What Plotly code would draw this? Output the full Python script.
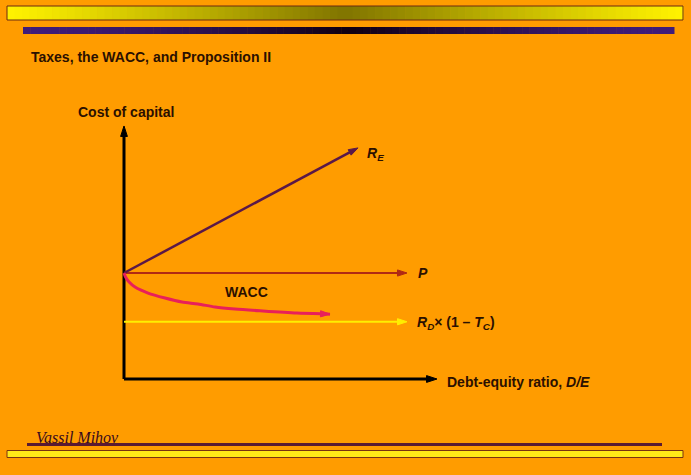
import plotly.graph_objects as go

# ---- data (D/E on x, cost of capital in % on y) ----
de_re = [0.0, 8.27]
re_vals = [10.0, 21.8]

de_p = [0.0, 10.0]
p_vals = [10.0, 10.0]

de_wacc = [0.0, 0.06, 0.18, 0.39, 0.85, 1.45, 2.05, 2.61, 3.22, 3.92, 4.91, 6.11, 7.17, 7.28]
wacc_vals = [10.0, 9.6, 9.15, 8.68, 8.11, 7.64, 7.26, 7.08, 6.79, 6.60, 6.42, 6.23, 6.13, 6.12]

de_rd = [0.0, 10.0]
rd_vals = [5.4, 5.4]

axis_x_end = 11.06
axis_y_end = 23.87

W, H = 691, 475
ORIGIN_PX = (124, 379)
PX_PER_X = 28.3
PX_PER_Y = 10.6

x_range = [-ORIGIN_PX[0] / PX_PER_X, (W - ORIGIN_PX[0]) / PX_PER_X]
y_range = [(ORIGIN_PX[1] - H) / PX_PER_Y, ORIGIN_PX[1] / PX_PER_Y]

BG = "#ff9c00"
TXT = "#2b1000"

fig = go.Figure()


def arrow_line(xs, ys, color, width, msize=9, shape="linear"):
    n = len(xs)
    fig.add_trace(go.Scatter(
        x=xs, y=ys, mode="lines+markers",
        line=dict(color=color, width=width, shape=shape, smoothing=0.8),
        marker=dict(symbol=["circle"] * (n - 1) + ["arrow"],
                    size=[0] * (n - 1) + [msize],
                    angleref="previous", color=color, opacity=1,
                    line=dict(width=1, color=color)),
        hoverinfo="skip", showlegend=False, cliponaxis=False,
    ))


# axes
arrow_line([0, 0], [0, axis_y_end], "#000000", 3, 11)
arrow_line([0, axis_x_end], [0, 0], "#000000", 3, 11)

arrow_line(de_rd, rd_vals, "#ffee00", 2, 10)
arrow_line(de_p, p_vals, "#b02a14", 2, 10)
arrow_line(de_re, re_vals, "#5a1848", 2.5, 10)
arrow_line(de_wacc, wacc_vals, "#e8205a", 3, 10, shape="spline")

shapes = []


def px_x(v):
    return v / W


def px_y(v):
    return 1 - v / H


def lerp(c1, c2, t):
    return "rgb(%d,%d,%d)" % tuple(round(a + (b - a) * t) for a, b in zip(c1, c2))


# top gradient bar
N = 90
x0, x1, ya, yb = 7, 683, 6, 20
for i in range(N):
    t = (i + 0.5) / N
    k = 1 - abs(2 * t - 1)
    shapes.append(dict(type="rect", xref="paper", yref="paper",
                       x0=px_x(x0 + (x1 - x0) * i / N), x1=px_x(x0 + (x1 - x0) * (i + 1) / N + 0.5),
                       y0=px_y(yb), y1=px_y(ya), line=dict(width=0),
                       fillcolor=lerp((255, 242, 0), (128, 116, 0), k ** 1.1), layer="below"))
shapes.append(dict(type="rect", xref="paper", yref="paper", x0=px_x(x0), x1=px_x(x1),
                   y0=px_y(yb), y1=px_y(ya), line=dict(color="#6b2a10", width=1), layer="below"))

# purple bar
x0, x1, ya, yb = 23, 674, 27, 34
for i in range(N):
    t = (i + 0.5) / N
    k = 1 - abs(2 * t - 1)
    shapes.append(dict(type="rect", xref="paper", yref="paper",
                       x0=px_x(x0 + (x1 - x0) * i / N), x1=px_x(x0 + (x1 - x0) * (i + 1) / N + 0.5),
                       y0=px_y(yb), y1=px_y(ya), line=dict(width=0),
                       fillcolor=lerp((64, 28, 122), (16, 0, 16), k ** 1.5), layer="below"))

# bottom dark line
shapes.append(dict(type="rect", xref="paper", yref="paper", x0=px_x(27), x1=px_x(662),
                   y0=px_y(446), y1=px_y(443), line=dict(width=0), fillcolor="#5a1a32", layer="below"))
# bottom yellow bar
shapes.append(dict(type="rect", xref="paper", yref="paper", x0=px_x(7), x1=px_x(683),
                   y0=px_y(457.5), y1=px_y(450.5), line=dict(color="#7a3410", width=1),
                   fillcolor="#ffea18", layer="below"))

ann = []


def label(text, xpx, ypx, size=14, family="Liberation Sans, Arial, sans-serif", color=TXT):
    ann.append(dict(text=text, xref="paper", yref="paper", x=px_x(xpx), y=px_y(ypx),
                    xanchor="left", yanchor="middle", showarrow=False,
                    font=dict(size=size, family=family, color=color)))


label("<b>Taxes, the WACC, and Proposition II</b>", 29, 57)
label("<b>Cost of capital</b>", 76, 112)
label("<b><i>R</i></b><sub><b><i>E</i></b></sub>", 365, 154)
label("<b><i>P</i></b>", 416, 273)
label("<b>WACC</b>", 223, 292)
label("<b><i>R</i></b><sub><b><i>D</i></b></sub><b>× (1 – <i>T</i></b><sub><b><i>C</i></b></sub><b>)</b>", 415, 323)
label("<b>Debt-equity ratio, <i>D/E</i></b>", 445, 382)
label("<i>Vassil Mihov</i>", 34, 437, size=16,
      family="Liberation Serif, Times New Roman, serif", color="#3a0a1e")

fig.update_layout(
    width=W, height=H,
    margin=dict(l=0, r=0, t=0, b=0),
    paper_bgcolor=BG, plot_bgcolor=BG,
    xaxis=dict(range=x_range, visible=False, fixedrange=True),
    yaxis=dict(range=y_range, visible=False, fixedrange=True),
    shapes=shapes, annotations=ann, showlegend=False,
)

fig.write_html("out.html", config={"displayModeBar": False},
               post_script="document.body.style.margin='0';document.body.style.background='" + BG + "';")
